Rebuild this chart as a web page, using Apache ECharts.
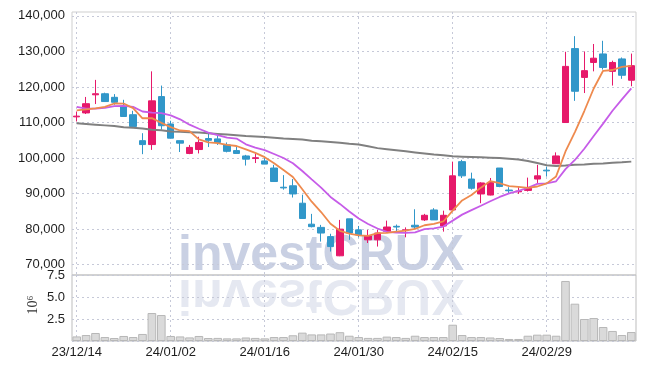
<!DOCTYPE html>
<html>
<head>
<meta charset="utf-8">
<script src="https://cdn.jsdelivr.net/npm/echarts@6/dist/echarts.min.js"></script>
<style>
html, body { margin: 0; padding: 0; background: #fff; }
#chart { width: 645px; height: 369px; }
</style>
</head>
<body>
<div id="chart"></div>
<script>
// trading days (yy/mm/dd)
var dates = [
  '23/12/14','23/12/15','23/12/18','23/12/19','23/12/20','23/12/21','23/12/22','23/12/26','23/12/27','23/12/28',
  '24/01/02','24/01/03','24/01/04','24/01/05','24/01/08','24/01/09','24/01/10','24/01/11','24/01/12','24/01/15',
  '24/01/16','24/01/17','24/01/18','24/01/19','24/01/22','24/01/23','24/01/24','24/01/25','24/01/26','24/01/29',
  '24/01/30','24/01/31','24/02/01','24/02/02','24/02/05','24/02/06','24/02/07','24/02/08','24/02/13','24/02/14',
  '24/02/15','24/02/16','24/02/19','24/02/20','24/02/21','24/02/22','24/02/23','24/02/26','24/02/27','24/02/28',
  '24/02/29','24/03/04','24/03/05','24/03/06','24/03/07','24/03/08','24/03/11','24/03/12','24/03/13','24/03/14'
];
var opens = [
  111600,112700,117800,118100,117100,114500,112200,104900,103800,117300,
  109600,104900,101300,102400,105500,105400,103700,102100,100600,99900,
  99200,97200,91800,92200,87300,81400,80500,77900,72500,82900,
  79800,77000,77000,79400,80800,79600,81100,82600,85400,80900,
  85400,99000,94100,89900,89600,97200,91000,90500,90900,94100,
  96600,98400,110000,130800,122700,126900,129300,124400,127900,121900
];
var closes = [
  111800,115300,118100,115900,115700,111700,108900,103800,116100,109100,
  105600,104200,103000,104400,105000,104400,101900,101300,99700,100100,
  98300,93400,91600,89900,83000,80700,78900,75100,80000,78900,
  78400,78100,78900,80600,80600,79800,80600,83900,82600,83900,
  95000,95000,91500,93000,93100,92000,90800,90700,91500,95000,
  96400,100600,125800,118800,124600,128100,125500,126900,123300,126000
];
var lows = [
  110300,112400,115200,115900,115000,111700,108900,101100,102300,108000,
  105600,101700,101100,101300,103100,103700,101600,101300,97900,98600,
  98300,93400,91100,88900,83000,80500,76500,73700,72400,77000,
  77700,76100,75100,79000,79000,77700,80000,82300,82600,79300,
  85400,94400,91100,87300,89500,91800,89900,89900,90600,93000,
  94800,98400,110000,116100,118300,124400,124900,120400,122300,120200
];
var highs = [
  113100,117200,122000,118400,118000,116400,113300,107000,124400,120400,
  110500,104900,103700,106000,106800,106700,104400,103300,100900,101300,
  100000,98100,95200,94100,89700,84300,81200,78700,82600,82900,
  80900,79800,79800,82400,81300,80500,85600,84300,85900,85200,
  99000,99500,95900,93200,94400,97200,91800,91800,94500,98100,
  97600,101600,129900,134300,130000,132100,133000,127400,128300,129400
];
var volumes = [
  520000,680000,910000,450000,340000,570000,450000,800000,3180000,2950000,
  570000,520000,410000,570000,340000,350000,300000,300000,400000,350000,
  300000,450000,450000,650000,950000,750000,750000,850000,1000000,600000,
  450000,350000,350000,500000,450000,350000,600000,450000,450000,450000,
  1850000,680000,450000,450000,400000,340000,230000,230000,600000,720000,
  720000,600000,6820000,4240000,2500000,2610000,1590000,1140000,680000,1020000
];
var ma5 = [
  113400,113700,114000,114400,115360,115340,114060,111200,111240,109920,
  108700,107760,107600,105260,104440,104200,103740,103400,102460,101480,
  100260,98560,96620,94660,91240,87720,84820,81520,79540,78720,
  78260,78100,78860,78980,79320,79600,80100,81100,81500,82160,
  85200,88080,89600,91680,93520,92920,92080,91920,91620,92000,
  92880,94840,101860,107320,113240,119580,124560,124780,125680,125960
];
var ma10 = [
  114400,113900,113900,114100,114600,114700,114400,113100,112800,112640,
  112020,110910,109400,108250,107180,106450,105750,105500,103860,102960,
  102230,101150,100010,98560,96360,93990,91690,89070,87100,84980,
  82990,81460,80190,79260,79020,78930,79100,79980,80240,80740,
  82400,84090,85350,86590,87840,89060,90080,90760,91650,92760,
  92900,93460,96890,99470,102620,106230,109700,113320,116500,119600
];
var ma60 = [
  109800,109600,109400,109200,109000,108700,108500,108300,108000,107800,
  107500,107400,107300,107200,107000,106800,106600,106400,106200,106100,
  105900,105700,105500,105400,105200,104900,104700,104500,104300,104000,
  103800,103300,102800,102500,102200,101900,101600,101300,101000,100800,
  100500,100400,100300,100200,100100,100000,99800,99600,99200,98600,
  98000,97800,97900,98100,98200,98400,98500,98700,98800,99000
];
var priceTicks = [70000, 80000, 90000, 100000, 110000, 120000, 130000, 140000];

var upColor = '#e6196a';
var downColor = '#3197c9';

var candles = dates.map(function (d, i) {
  return [opens[i], closes[i], lows[i], highs[i]];
});

var chart = echarts.init(document.getElementById('chart'));

var dotStyle = { color: '#c6c9d8', width: 1, type: [2, 3] };
var labelFont = { color: '#1e1e1e', fontFamily: 'Liberation Sans', fontSize: 13 };

function withFont(o) {
  var r = {};
  for (var k in labelFont) r[k] = labelFont[k];
  for (var j in o) r[j] = o[j];
  return r;
}

var wm = { text: 'investCRUX', fontFamily: 'Liberation Sans', fontWeight: 'bold', fontSize: 50, verticalAlign: 'bottom' };
function wmStyle(fill) {
  var r = { fill: fill };
  for (var k in wm) r[k] = wm[k];
  return r;
}

var option = {
  animation: false,
  grid: [
    { left: 72, right: 9, top: 12, height: 263, show: true, borderColor: '#cfcfcf', borderWidth: 1 },
    { left: 72, right: 9, top: 275, height: 66, show: true, borderColor: '#bdbdbd', borderWidth: 1 }
  ],
  xAxis: [
    {
      type: 'category', gridIndex: 0, data: dates, boundaryGap: true,
      axisLine: { show: false }, axisTick: { show: false }, axisLabel: { show: false },
      splitLine: { show: true, interval: 9, alignWithLabel: true, lineStyle: dotStyle }
    },
    {
      type: 'category', gridIndex: 1, data: dates, boundaryGap: true,
      axisLine: { show: false }, axisTick: { show: false },
      axisLabel: withFont({ interval: 9, margin: 5 }),
      splitLine: { show: true, interval: 9, alignWithLabel: true, lineStyle: dotStyle }
    }
  ],
  yAxis: [
    {
      type: 'value', gridIndex: 0, min: 67100, max: 141100,
      axisLine: { show: false },
      axisTick: { show: false, customValues: priceTicks },
      axisLabel: withFont({
        customValues: priceTicks, margin: 7,
        formatter: function (v) { return echarts.format.addCommas(v); }
      }),
      splitLine: { show: true, lineStyle: dotStyle }
    },
    {
      type: 'value', gridIndex: 1, min: 0, max: 7500000, interval: 2500000,
      axisLine: { show: false }, axisTick: { show: false },
      axisLabel: withFont({
        margin: 7, showMinLabel: false,
        formatter: function (v) { return (v / 1e6).toFixed(1); }
      }),
      splitLine: { show: true, lineStyle: dotStyle }
    }
  ],
  graphic: [
    { type: 'text', x: 178, y: 281, z: 0, style: wmStyle('#c9d0e3') },
    { type: 'text', x: 178, y: 269, scaleY: -1, z: 0, style: wmStyle('#e5e8f1') },
    {
      type: 'text', x: 33, y: 305, rotation: Math.PI / 2,
      style: { text: '10\u2076', fontFamily: 'Liberation Serif', fontSize: 14, fill: '#333', align: 'center', verticalAlign: 'middle' }
    }
  ],
  series: [
    {
      name: 'price', type: 'candlestick', xAxisIndex: 0, yAxisIndex: 0,
      data: candles, barWidth: 7,
      itemStyle: { color: upColor, color0: downColor, borderColor: upColor, borderColor0: downColor, borderWidth: 1 }
    },
    {
      name: 'MA60', type: 'line', xAxisIndex: 0, yAxisIndex: 0, data: ma60,
      symbol: 'none', lineStyle: { color: '#808080', width: 2 }
    },
    {
      name: 'MA10', type: 'line', xAxisIndex: 0, yAxisIndex: 0, data: ma10,
      symbol: 'none', lineStyle: { color: '#c65ce8', width: 1.8 }
    },
    {
      name: 'MA5', type: 'line', xAxisIndex: 0, yAxisIndex: 0, data: ma5,
      symbol: 'none', lineStyle: { color: '#ee8a4e', width: 1.8 }
    },
    {
      name: 'volume', type: 'bar', xAxisIndex: 1, yAxisIndex: 1, data: volumes,
      barWidth: '92%',
      itemStyle: { color: '#dadada', borderColor: '#b8b8b8', borderWidth: 1 }
    }
  ]
};

chart.setOption(option);
</script>
</body>
</html>
